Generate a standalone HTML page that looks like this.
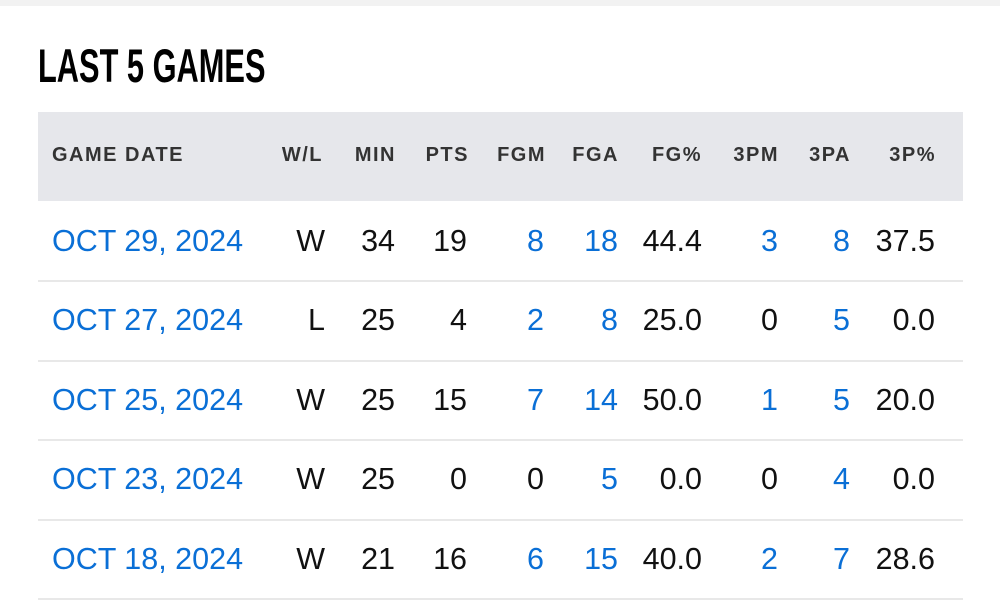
<!DOCTYPE html>
<html><head><meta charset="utf-8"><style>
body{margin:0;width:1000px;height:610px;background:#fff;position:relative;overflow:hidden;font-family:"Liberation Sans",sans-serif}
.top{position:absolute;left:0;top:0;width:1000px;height:6px;background:#f2f2f2}
.title{position:absolute;left:38px;top:38px;font-weight:bold;font-size:47px;line-height:56px;color:#000;transform:scaleX(0.655);transform-origin:0 0;white-space:nowrap}
.hdr{position:absolute;left:38px;top:112px;width:925px;height:89px;background:#e6e7eb}
.h{position:absolute;top:143px;font-weight:bold;font-size:20px;line-height:24px;color:#333;letter-spacing:1.5px;white-space:nowrap}
.sep{position:absolute;left:38px;width:925px;height:2px;background:#e8e8e8}
.c{position:absolute;font-size:30.5px;line-height:34px;color:#111;white-space:nowrap}
.b{color:#0a6fd6}
</style></head><body>
<div class="top"></div>
<div class="title">LAST 5 GAMES</div>
<div class="hdr"></div>
<div class="h" style="left:52px">GAME DATE</div>
<div class="h" style="right:677px">W/L</div>
<div class="h" style="right:604px">MIN</div>
<div class="h" style="right:531px">PTS</div>
<div class="h" style="right:454px">FGM</div>
<div class="h" style="right:381px">FGA</div>
<div class="h" style="right:298px">FG%</div>
<div class="h" style="right:221px">3PM</div>
<div class="h" style="right:149px">3PA</div>
<div class="h" style="right:64px">3P%</div>
<div class="sep" style="top:280px"></div>
<div class="sep" style="top:360px"></div>
<div class="sep" style="top:439px"></div>
<div class="sep" style="top:519px"></div>
<div class="sep" style="top:598px"></div>

<div class="c b" style="left:52px;top:224px">OCT 29, 2024</div>
<div class="c" style="right:675px;top:224px">W</div>
<div class="c" style="right:605px;top:224px">34</div>
<div class="c" style="right:533px;top:224px">19</div>
<div class="c b" style="right:456px;top:224px">8</div>
<div class="c b" style="right:382px;top:224px">18</div>
<div class="c" style="right:298px;top:224px">44.4</div>
<div class="c b" style="right:222px;top:224px">3</div>
<div class="c b" style="right:150px;top:224px">8</div>
<div class="c" style="right:65px;top:224px">37.5</div>

<div class="c b" style="left:52px;top:303px">OCT 27, 2024</div>
<div class="c" style="right:675px;top:303px">L</div>
<div class="c" style="right:605px;top:303px">25</div>
<div class="c" style="right:533px;top:303px">4</div>
<div class="c b" style="right:456px;top:303px">2</div>
<div class="c b" style="right:382px;top:303px">8</div>
<div class="c" style="right:298px;top:303px">25.0</div>
<div class="c" style="right:222px;top:303px">0</div>
<div class="c b" style="right:150px;top:303px">5</div>
<div class="c" style="right:65px;top:303px">0.0</div>

<div class="c b" style="left:52px;top:383px">OCT 25, 2024</div>
<div class="c" style="right:675px;top:383px">W</div>
<div class="c" style="right:605px;top:383px">25</div>
<div class="c" style="right:533px;top:383px">15</div>
<div class="c b" style="right:456px;top:383px">7</div>
<div class="c b" style="right:382px;top:383px">14</div>
<div class="c" style="right:298px;top:383px">50.0</div>
<div class="c b" style="right:222px;top:383px">1</div>
<div class="c b" style="right:150px;top:383px">5</div>
<div class="c" style="right:65px;top:383px">20.0</div>

<div class="c b" style="left:52px;top:462px">OCT 23, 2024</div>
<div class="c" style="right:675px;top:462px">W</div>
<div class="c" style="right:605px;top:462px">25</div>
<div class="c" style="right:533px;top:462px">0</div>
<div class="c" style="right:456px;top:462px">0</div>
<div class="c b" style="right:382px;top:462px">5</div>
<div class="c" style="right:298px;top:462px">0.0</div>
<div class="c" style="right:222px;top:462px">0</div>
<div class="c b" style="right:150px;top:462px">4</div>
<div class="c" style="right:65px;top:462px">0.0</div>

<div class="c b" style="left:52px;top:542px">OCT 18, 2024</div>
<div class="c" style="right:675px;top:542px">W</div>
<div class="c" style="right:605px;top:542px">21</div>
<div class="c" style="right:533px;top:542px">16</div>
<div class="c b" style="right:456px;top:542px">6</div>
<div class="c b" style="right:382px;top:542px">15</div>
<div class="c" style="right:298px;top:542px">40.0</div>
<div class="c b" style="right:222px;top:542px">2</div>
<div class="c b" style="right:150px;top:542px">7</div>
<div class="c" style="right:65px;top:542px">28.6</div>
</body></html>
